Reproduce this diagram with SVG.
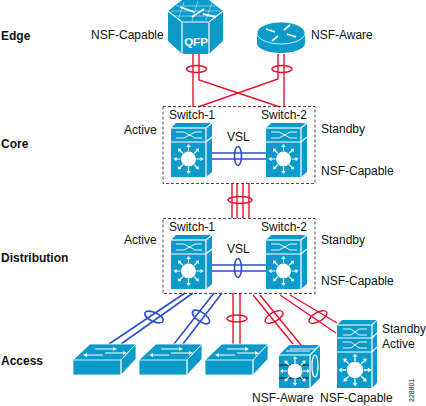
<svg xmlns="http://www.w3.org/2000/svg" xmlns:xlink="http://www.w3.org/1999/xlink" width="426" height="406" viewBox="0 0 426 406">
<style>
text{font-family:"Liberation Sans",Arial,sans-serif;font-size:12px;fill:#111}
.b{font-weight:bold}
.f{fill:#0a9bcb;stroke:#fff;stroke-width:.8}
.d{fill:#0a9bcb;stroke:none}
.w{stroke:#fff;stroke-width:1.2;fill:none}
.t{stroke:#bfe6f3;stroke-width:.6;fill:none}
.wf{fill:#fff;stroke:none}
.r{stroke:#e8112d;stroke-width:1.4;fill:none}
.u{stroke:#2c4fc9;stroke-width:1.6;fill:none}
.box{fill:none;stroke:#222;stroke-width:.8;stroke-dasharray:3 2}
</style>
<defs>
<path id="ar" d="M-.6-8H.6V-12H2.200L0-15L-2.200-12H-.6Z" fill="#fff"/>
<g id="star"><circle r="7.500" class="wf"/>
<use xlink:href="#ar"/><use xlink:href="#ar" transform="rotate(45)"/><use xlink:href="#ar" transform="rotate(90)"/><use xlink:href="#ar" transform="rotate(135)"/><use xlink:href="#ar" transform="rotate(180)"/><use xlink:href="#ar" transform="rotate(225)"/><use xlink:href="#ar" transform="rotate(270)"/><use xlink:href="#ar" transform="rotate(315)"/></g>
<g id="vss">
<path class="d" d="M0 5L5 0H41V49L35 54H0Z"/>
<path class="w" d="M0 5H35L41 0M35 5V54M0 19H35L41 14"/>
<path class="t" d="M0 5H35"/>
<path class="w" d="M5 9H13L24 15H31M5 15H13L24 9H31" style="stroke-width:.9"/>
<use xlink:href="#star" x="17.500" y="36"/>
</g>
<g id="sw">
<path class="f" d="M0 16L17 0H63L48 16V31H0Z"/><path class="f" d="M48 16H0V31H48ZM48 16L63 0V15L48 31Z"/>
<path class="w" d="M22 5H40M32 9H50M14 11H30"/>
<path class="wf" d="M40 3L44 5L40 7ZM50 7L54 9L50 11ZM14 9L10 11L14 13Z"/>
</g>
</defs>
<g id="connectors">
<path class="r" d="M193 54V107M199 54V80L280 107M278 54V79L198 107M284 54V107"/>
<ellipse class="r" cx="196.500" cy="69" rx="10" ry="3.500"/><ellipse class="r" cx="282" cy="69" rx="10" ry="3.500"/>
<path class="u" d="M212 153H266M212 159H266M212 265H266M212 271H266"/>
<ellipse class="u" cx="238" cy="156" rx="3.500" ry="9.500"/><ellipse class="u" cx="238" cy="268" rx="3.500" ry="9.500"/>
<path class="r" d="M232 183V218M237 183V218M243 183V218M249 183V218"/>
<ellipse class="r" cx="240" cy="200" rx="12" ry="3.500"/>
<path class="u" d="M185 293L109 344M193 293L121 344M214 293L174 344M222 293L183 344"/>
<ellipse class="u" cx="154" cy="317" rx="10" ry="4.500" transform="rotate(25 154 317)"/><ellipse class="u" cx="201" cy="317" rx="10" ry="4.500" transform="rotate(35 201 317)"/>
<path class="r" d="M233 293V344M240 293V344M253 295L293 344M260 295L301 345M280 295L336 333M290 295L337 323"/>
<ellipse class="r" cx="237" cy="318.500" rx="10" ry="3.500"/><ellipse class="r" cx="274" cy="317" rx="10" ry="4.500" transform="rotate(-30 274 317)"/><ellipse class="r" cx="318" cy="317" rx="10" ry="4.500" transform="rotate(-30 318 317)"/>
</g>
<g id="labels-tier"><text class="b" x="1" y="40">Edge</text><text class="b" x="1" y="148">Core</text><text class="b" x="1" y="262">Distribution</text><text class="b" x="1" y="365">Access</text></g>
<g id="edge-qfp">
<path class="d" d="M168 11L182 0H209L223 11V41L209 54H182L168 41Z"/>
<path class="w" d="M168 11L182 22H209L223 11M182 22V54M209 22V54"/>
<path class="t" d="M176 6H216M171 11H220M175 16H216M184 2L178 20M198 1L192 21M212 2L206 20"/>
<path class="w" d="M180 7L194 12M192 17L204 9M203 14L216 17" style="stroke-width:1.800"/>
<text x="196" y="46" text-anchor="middle" style="fill:#fff;font-size:11.500px;font-weight:bold">QFP</text>
</g>
<g id="edge-router">
<path class="d" d="M257 33V43C257 49 268 53 281 53S305 49 305 43V33Z"/>
<ellipse class="d" cx="281" cy="33" rx="24" ry="11" style="stroke:#fff;stroke-width:.8"/>
<path class="w" d="M266 29L275 32M296 37L287 34M290 25L284 30M272 41L278 36" style="stroke-width:1.800"/>
</g>
<g id="core">
<rect class="box" x="163" y="106.500" width="152" height="77"/>
<use xlink:href="#vss" x="171" y="123"/><use xlink:href="#vss" x="266" y="123"/>
<text x="169" y="119">Switch-1</text><text x="261" y="119">Switch-2</text><text x="227" y="141">VSL</text>
</g>
<g id="distribution">
<rect class="box" x="163" y="218.500" width="152" height="75"/>
<use xlink:href="#vss" x="171" y="235"/><use xlink:href="#vss" x="266" y="235"/>
<text x="169" y="231">Switch-1</text><text x="261" y="231">Switch-2</text><text x="227" y="253">VSL</text>
</g>
<g id="access-1"><use xlink:href="#sw" x="73" y="344"/></g>
<g id="access-2"><use xlink:href="#sw" x="139" y="344"/></g>
<g id="access-3"><use xlink:href="#sw" x="205" y="344"/></g>
<g id="access-4">
<path class="d" d="M279 355L289 345H320V378L310 388H279Z"/>
<path class="w" d="M279 355H310L320 345M310 355V388"/>
<path class="w" d="M286 351H310M290 349H316" style="stroke-width:.9"/>
<path d="M279 365H309M279 378H309" stroke="#111" stroke-width="1" fill="none"/>
<use xlink:href="#star" x="295" y="371"/>
<ellipse class="w" cx="315" cy="366" rx="3" ry="11"/>
</g>
<g id="access-5">
<path class="d" d="M337 325L342 320H377V383L372 388H337Z"/>
<path class="w" d="M337 325H372L377 320M372 325V388M337 338H372L377 333M337 352H372L377 347"/>
<path class="w" d="M343 329H351L359 335H367M343 335H351L359 329H367M343 342H351L359 348H367M343 348H351L359 342H367" style="stroke-width:.9"/>
<g transform="translate(355 370) scale(1.100)"><use xlink:href="#star"/></g>
</g>
<g id="labels">
<text x="91" y="39">NSF-Capable</text><text x="311" y="39">NSF-Aware</text>
<text x="124" y="134">Active</text><text x="321" y="133">Standby</text><text x="321" y="175">NSF-Capable</text>
<text x="124" y="244">Active</text><text x="321" y="244">Standby</text><text x="321" y="285">NSF-Capable</text>
<text x="382" y="333">Standby</text><text x="382" y="348">Active</text>
<text x="252" y="402">NSF-Aware</text><text x="320" y="402">NSF-Capable</text>
<text transform="translate(414 402) rotate(-90)" style="font-size:7px">228801</text>
</g>
</svg>
